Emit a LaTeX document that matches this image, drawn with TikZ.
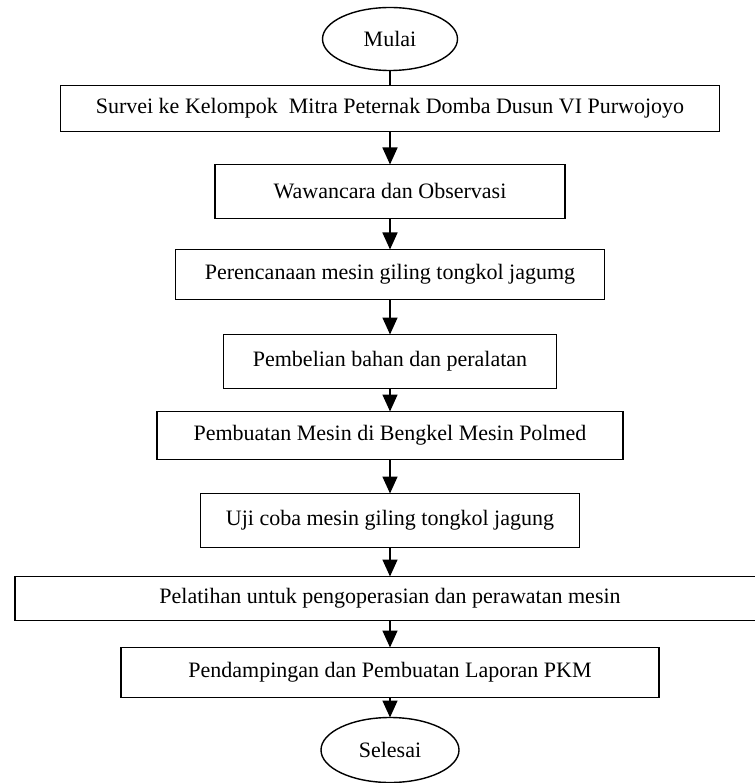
\documentclass[tikz,border=0pt]{standalone}
\usepackage{fontspec}
\setmainfont{Liberation Serif}
\usepackage{tikz}
\usetikzlibrary{shapes,arrows.meta,positioning}

\begin{document}
\begin{tikzpicture}[
    x=1pt, y=1pt,
    font=\fontsize{22}{26}\selectfont,
    box/.style={rectangle, draw=black, line width=1.6pt, outer sep=0pt, minimum height=50pt, text centered, inner sep=0pt},
    term/.style={ellipse, draw=black, line width=1.4pt, outer sep=0pt, minimum width=135pt, minimum height=63pt, inner sep=0pt},
    arrow/.style={-{Triangle[length=17pt,width=15pt]}, line width=1.6pt},
    link/.style={line width=1.6pt}
]
\useasboundingbox (0,0) rectangle (754,-783);

\node[term] (mulai) at (390,-39) {Mulai};
\node[box, minimum width=659pt, minimum height=46pt, below=15pt of mulai] (survei) {Survei ke Kelompok\ \ Mitra Peternak Domba Dusun VI Purwojoyo};
\node[box, minimum width=350pt, minimum height=54pt, below=33pt of survei] (wawancara) {Wawancara dan Observasi};
\node[box, minimum width=429pt, below=31pt of wawancara] (rencana) {Perencanaan mesin giling tongkol jagumg};
\node[box, minimum width=333pt, minimum height=54pt, below=35pt of rencana] (beli) {Pembelian bahan dan peralatan};
\node[box, minimum width=466pt, minimum height=48pt, below=23pt of beli] (buat) {Pembuatan Mesin di Bengkel Mesin Polmed};
\node[box, minimum width=379pt, minimum height=54pt, below=34pt of buat] (uji) {Uji coba mesin giling tongkol jagung};
\node[box, minimum width=750pt, minimum height=44pt, below=29pt of uji] (latih) {Pelatihan untuk pengoperasian dan perawatan mesin};
\node[box, minimum width=538pt, below=27pt of latih] (damping) {Pendampingan dan Pembuatan Laporan PKM};
\node[term, minimum width=138pt, minimum height=65pt, below=20pt of damping] (selesai) {Selesai};

\draw[link] (mulai) -- (survei);
\draw[arrow] (survei) -- (wawancara);
\draw[arrow] (wawancara) -- (rencana);
\draw[arrow] (rencana) -- (beli);
\draw[arrow] (beli) -- (buat);
\draw[arrow] (buat) -- (uji);
\draw[arrow] (uji) -- (latih);
\draw[arrow] (latih) -- (damping);
\draw[arrow] (damping) -- (selesai);

\end{tikzpicture}
\end{document}
